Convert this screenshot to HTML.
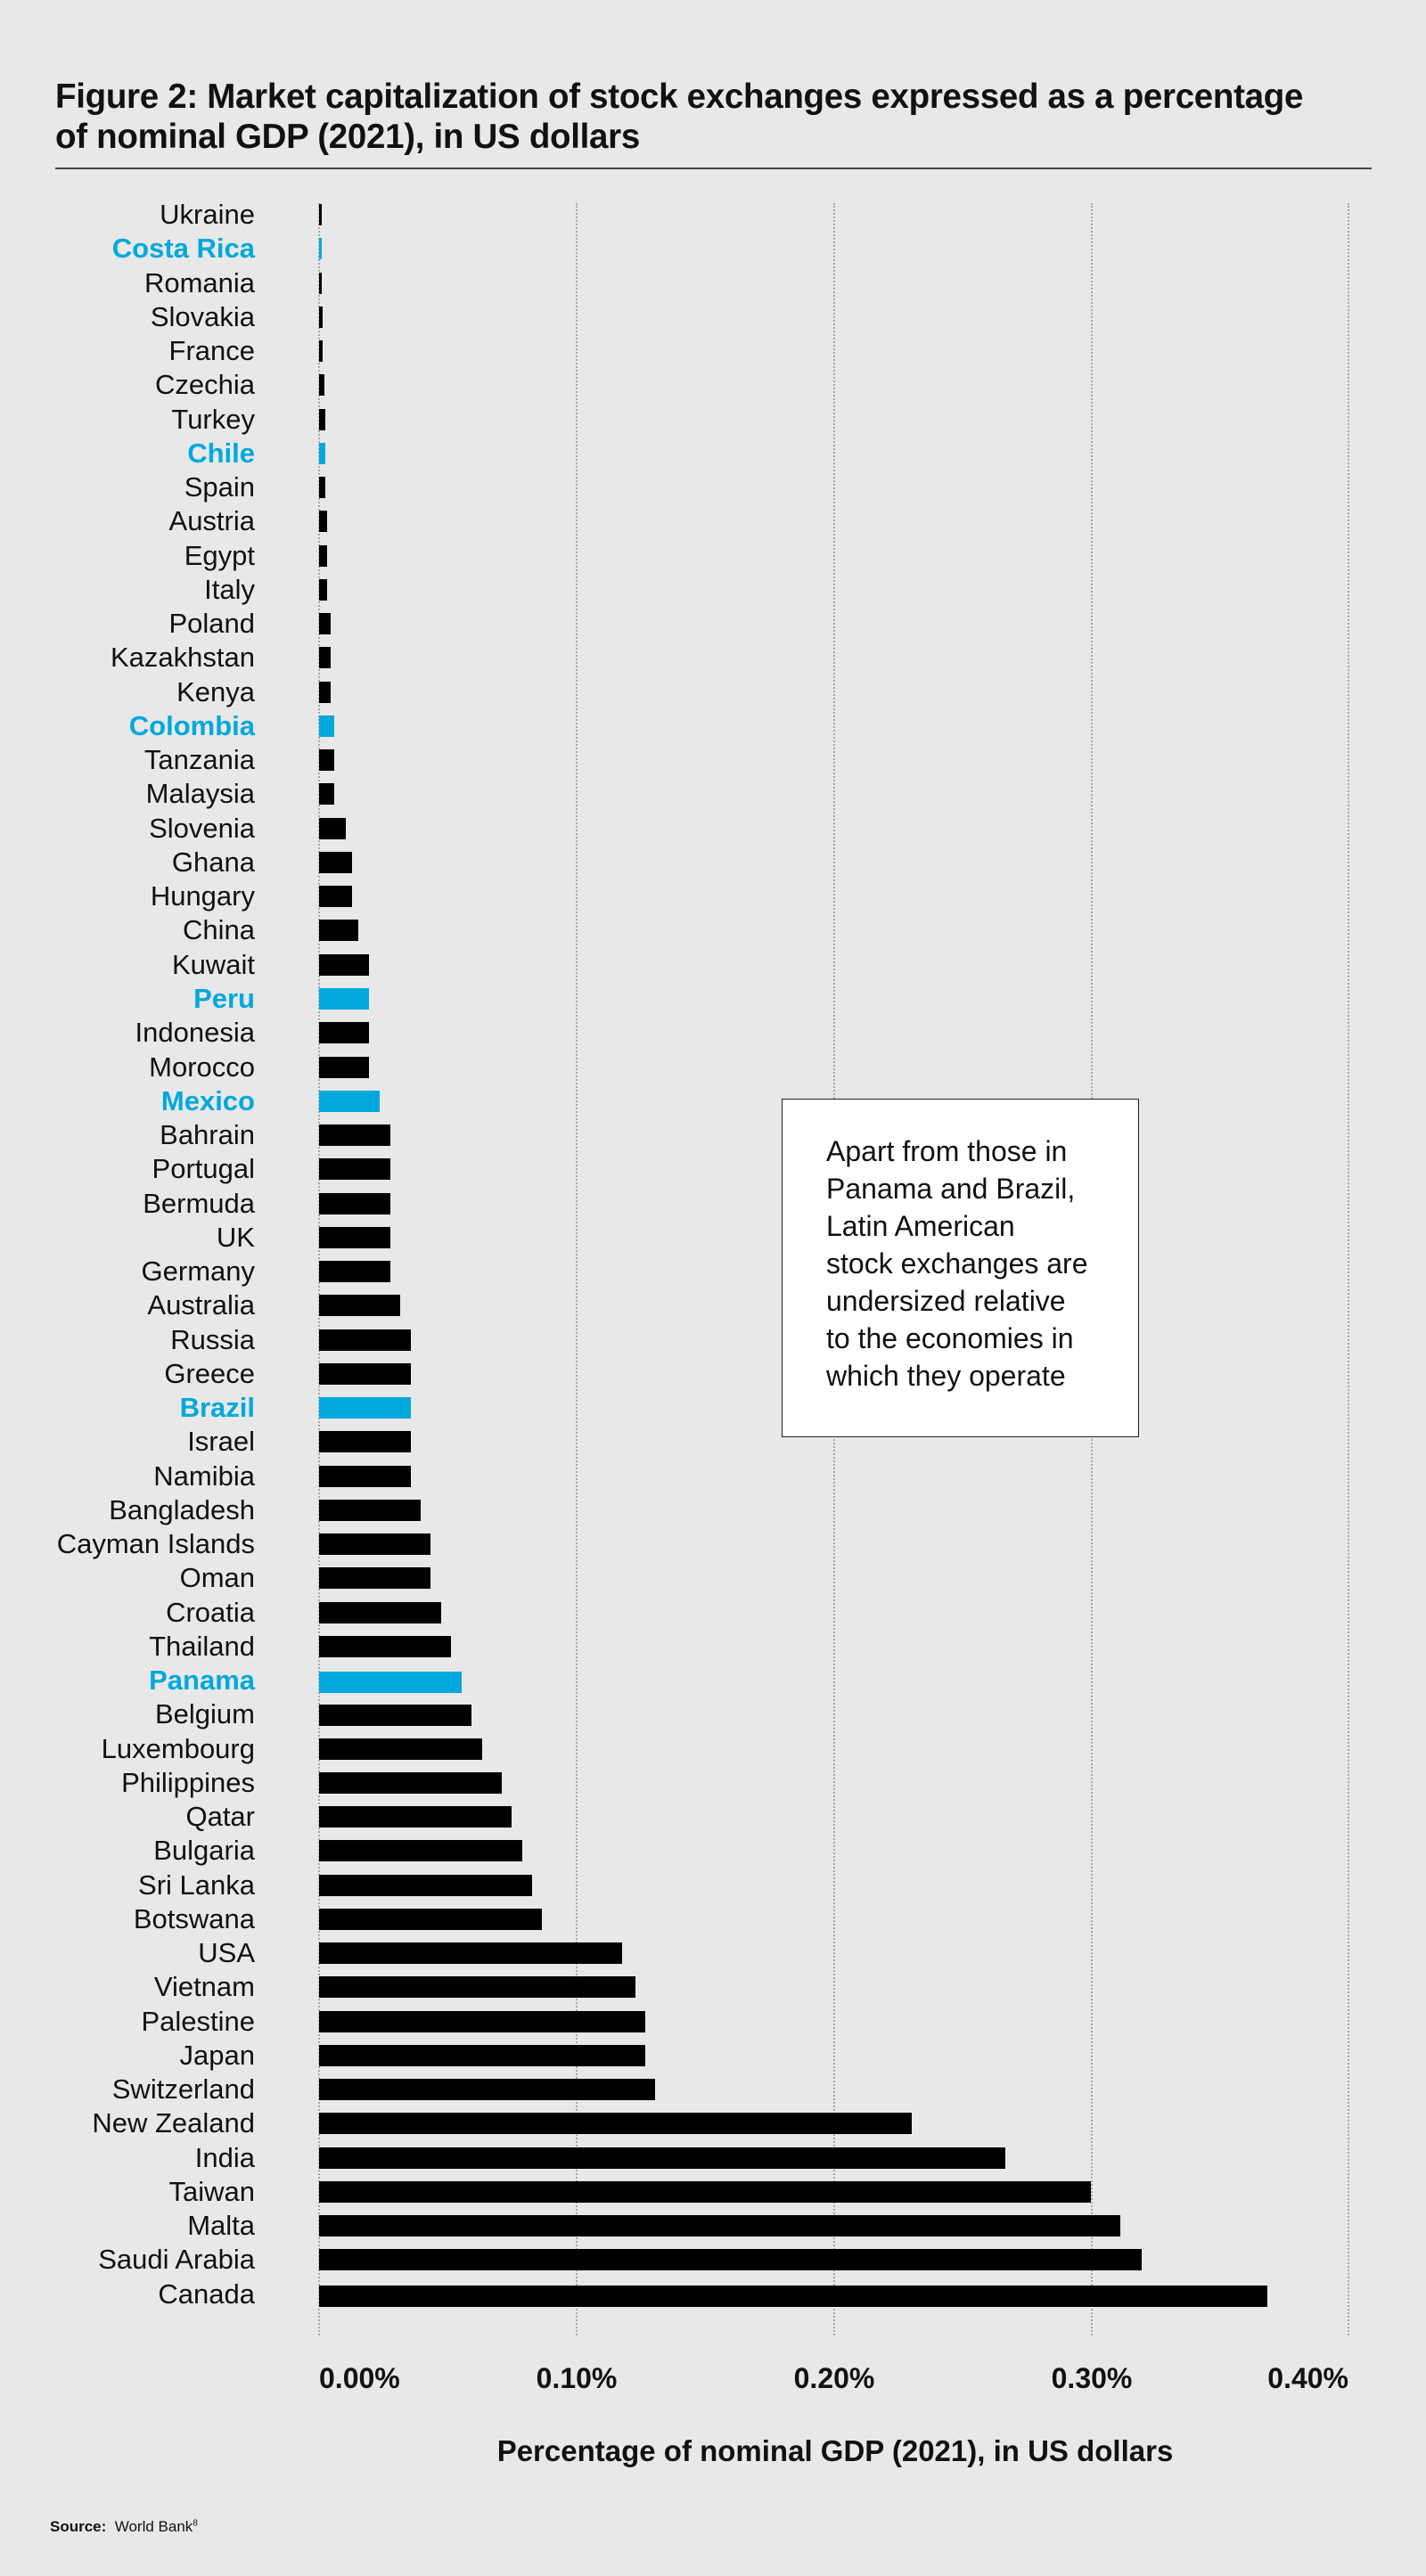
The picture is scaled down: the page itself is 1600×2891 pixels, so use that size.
<!DOCTYPE html>
<html><head><meta charset="utf-8"><style>
body{margin:0;background:#e8e8e8;}
#c{position:relative;width:1600px;height:2891px;background:#e8e8e8;font-family:"Liberation Sans",sans-serif;color:#111;overflow:hidden}
.t{position:absolute;left:62px;font-weight:bold;font-size:38.5px;line-height:45px;letter-spacing:-0.3px;white-space:nowrap}
.l{position:absolute;right:1314px;height:38px;line-height:38px;font-size:31px;white-space:nowrap;text-align:right;color:#111}
.l.b{color:#00a8dc;font-weight:bold}
.r{position:absolute;left:358px;height:24px;background:#000}
.r.b{background:#00a8dc}
.g{position:absolute;top:228px;height:2393px;width:0;border-left:2px dotted #a8a8a8}
.k{position:absolute;top:2651px;font-size:32px;font-weight:bold;line-height:36px}
</style></head><body><div id="c">
<div class="t" style="top:86px">Figure 2: Market capitalization of stock exchanges expressed as a percentage</div>
<div class="t" style="top:131px">of nominal GDP (2021), in US dollars</div>
<div style="position:absolute;left:62px;top:188px;width:1477px;height:2px;background:#444"></div>
<div class="g" style="left:357px"></div><div class="g" style="left:646px"></div><div class="g" style="left:935px"></div><div class="g" style="left:1224px"></div><div class="g" style="left:1512px"></div>

<div class="l" style="top:222px">Ukraine</div><div class="r" style="top:229px;width:3px"></div>
<div class="l b" style="top:260px">Costa Rica</div><div class="r b" style="top:267px;width:3px"></div>
<div class="l" style="top:299px">Romania</div><div class="r" style="top:306px;width:3px"></div>
<div class="l" style="top:337px">Slovakia</div><div class="r" style="top:344px;width:4px"></div>
<div class="l" style="top:375px">France</div><div class="r" style="top:382px;width:4px"></div>
<div class="l" style="top:413px">Czechia</div><div class="r" style="top:420px;width:6px"></div>
<div class="l" style="top:452px">Turkey</div><div class="r" style="top:459px;width:7px"></div>
<div class="l b" style="top:490px">Chile</div><div class="r b" style="top:497px;width:7px"></div>
<div class="l" style="top:528px">Spain</div><div class="r" style="top:535px;width:7px"></div>
<div class="l" style="top:566px">Austria</div><div class="r" style="top:573px;width:9px"></div>
<div class="l" style="top:605px">Egypt</div><div class="r" style="top:612px;width:9px"></div>
<div class="l" style="top:643px">Italy</div><div class="r" style="top:650px;width:9px"></div>
<div class="l" style="top:681px">Poland</div><div class="r" style="top:688px;width:13px"></div>
<div class="l" style="top:719px">Kazakhstan</div><div class="r" style="top:726px;width:13px"></div>
<div class="l" style="top:758px">Kenya</div><div class="r" style="top:765px;width:13px"></div>
<div class="l b" style="top:796px">Colombia</div><div class="r b" style="top:803px;width:17px"></div>
<div class="l" style="top:834px">Tanzania</div><div class="r" style="top:841px;width:17px"></div>
<div class="l" style="top:872px">Malaysia</div><div class="r" style="top:879px;width:17px"></div>
<div class="l" style="top:911px">Slovenia</div><div class="r" style="top:918px;width:30px"></div>
<div class="l" style="top:949px">Ghana</div><div class="r" style="top:956px;width:37px"></div>
<div class="l" style="top:987px">Hungary</div><div class="r" style="top:994px;width:37px"></div>
<div class="l" style="top:1025px">China</div><div class="r" style="top:1032px;width:44px"></div>
<div class="l" style="top:1064px">Kuwait</div><div class="r" style="top:1071px;width:56px"></div>
<div class="l b" style="top:1102px">Peru</div><div class="r b" style="top:1109px;width:56px"></div>
<div class="l" style="top:1140px">Indonesia</div><div class="r" style="top:1147px;width:56px"></div>
<div class="l" style="top:1179px">Morocco</div><div class="r" style="top:1186px;width:56px"></div>
<div class="l b" style="top:1217px">Mexico</div><div class="r b" style="top:1224px;width:68px"></div>
<div class="l" style="top:1255px">Bahrain</div><div class="r" style="top:1262px;width:80px"></div>
<div class="l" style="top:1293px">Portugal</div><div class="r" style="top:1300px;width:80px"></div>
<div class="l" style="top:1332px">Bermuda</div><div class="r" style="top:1339px;width:80px"></div>
<div class="l" style="top:1370px">UK</div><div class="r" style="top:1377px;width:80px"></div>
<div class="l" style="top:1408px">Germany</div><div class="r" style="top:1415px;width:80px"></div>
<div class="l" style="top:1446px">Australia</div><div class="r" style="top:1453px;width:91px"></div>
<div class="l" style="top:1485px">Russia</div><div class="r" style="top:1492px;width:103px"></div>
<div class="l" style="top:1523px">Greece</div><div class="r" style="top:1530px;width:103px"></div>
<div class="l b" style="top:1561px">Brazil</div><div class="r b" style="top:1568px;width:103px"></div>
<div class="l" style="top:1599px">Israel</div><div class="r" style="top:1606px;width:103px"></div>
<div class="l" style="top:1638px">Namibia</div><div class="r" style="top:1645px;width:103px"></div>
<div class="l" style="top:1676px">Bangladesh</div><div class="r" style="top:1683px;width:114px"></div>
<div class="l" style="top:1714px">Cayman Islands</div><div class="r" style="top:1721px;width:125px"></div>
<div class="l" style="top:1752px">Oman</div><div class="r" style="top:1759px;width:125px"></div>
<div class="l" style="top:1791px">Croatia</div><div class="r" style="top:1798px;width:137px"></div>
<div class="l" style="top:1829px">Thailand</div><div class="r" style="top:1836px;width:148px"></div>
<div class="l b" style="top:1867px">Panama</div><div class="r b" style="top:1876px;width:160px"></div>
<div class="l" style="top:1905px">Belgium</div><div class="r" style="top:1913px;width:171px"></div>
<div class="l" style="top:1944px">Luxembourg</div><div class="r" style="top:1951px;width:183px"></div>
<div class="l" style="top:1982px">Philippines</div><div class="r" style="top:1989px;width:205px"></div>
<div class="l" style="top:2020px">Qatar</div><div class="r" style="top:2027px;width:216px"></div>
<div class="l" style="top:2058px">Bulgaria</div><div class="r" style="top:2065px;width:228px"></div>
<div class="l" style="top:2097px">Sri Lanka</div><div class="r" style="top:2104px;width:239px"></div>
<div class="l" style="top:2135px">Botswana</div><div class="r" style="top:2142px;width:250px"></div>
<div class="l" style="top:2173px">USA</div><div class="r" style="top:2180px;width:340px"></div>
<div class="l" style="top:2211px">Vietnam</div><div class="r" style="top:2218px;width:355px"></div>
<div class="l" style="top:2250px">Palestine</div><div class="r" style="top:2257px;width:366px"></div>
<div class="l" style="top:2288px">Japan</div><div class="r" style="top:2295px;width:366px"></div>
<div class="l" style="top:2326px">Switzerland</div><div class="r" style="top:2333px;width:377px"></div>
<div class="l" style="top:2364px">New Zealand</div><div class="r" style="top:2371px;width:665px"></div>
<div class="l" style="top:2403px">India</div><div class="r" style="top:2410px;width:770px"></div>
<div class="l" style="top:2441px">Taiwan</div><div class="r" style="top:2448px;width:866px"></div>
<div class="l" style="top:2479px">Malta</div><div class="r" style="top:2486px;width:899px"></div>
<div class="l" style="top:2517px">Saudi Arabia</div><div class="r" style="top:2524px;width:923px"></div>
<div class="l" style="top:2556px">Canada</div><div class="r" style="top:2565px;width:1064px"></div>

<div style="position:absolute;left:877px;top:1233px;width:399px;height:378px;background:#fff;border:1px solid #222"></div>
<div style="position:absolute;left:927px;top:1271px;font-size:32px;line-height:42px;color:#111;white-space:nowrap">Apart from those in<br>Panama and Brazil,<br>Latin American<br>stock exchanges are<br>undersized relative<br>to the economies in<br>which they operate</div>

<div class="k" style="left:358px">0.00%</div>
<div class="k" style="left:647px;transform:translateX(-50%)">0.10%</div>
<div class="k" style="left:936px;transform:translateX(-50%)">0.20%</div>
<div class="k" style="left:1225px;transform:translateX(-50%)">0.30%</div>
<div class="k" style="right:87px">0.40%</div>
<div style="position:absolute;left:937px;top:2732px;transform:translateX(-50%);font-size:33px;font-weight:bold;white-space:nowrap">Percentage of nominal GDP (2021), in US dollars</div>
<div style="position:absolute;left:56px;top:2826px;font-size:17px;white-space:nowrap"><b>Source:</b>&nbsp; World Bank<sup style="font-size:10px">8</sup></div>
</div></body></html>
